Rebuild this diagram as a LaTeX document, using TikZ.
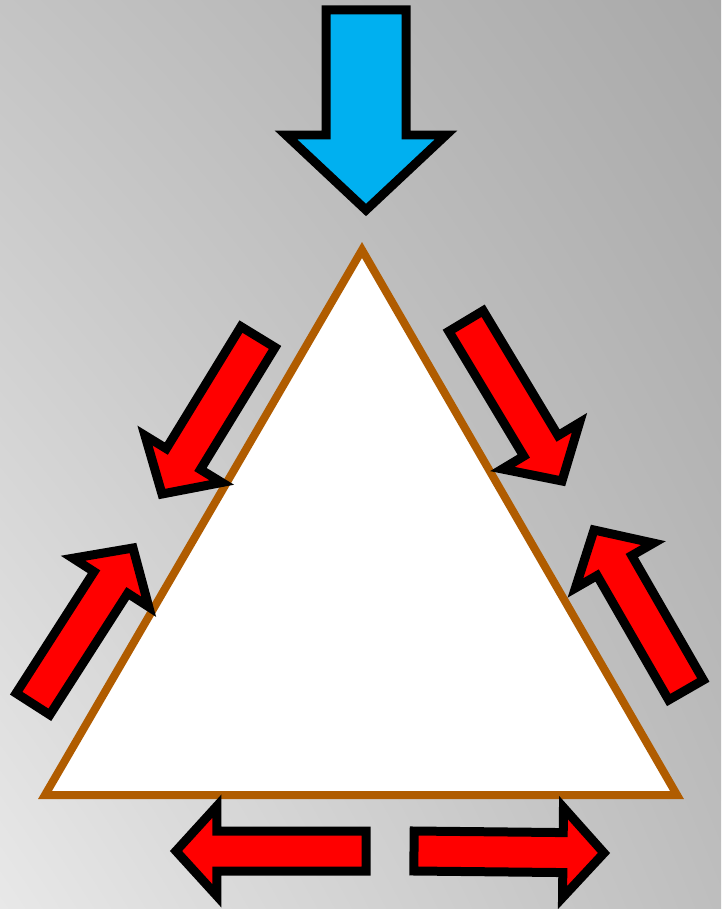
\documentclass[tikz,border=0pt]{standalone}
\usetikzlibrary{calc, shadings}
\definecolor{skyblue}{HTML}{00B0F0}
\definecolor{rimbrown}{HTML}{B05C00}
\definecolor{bgtopleft}{HTML}{C4C4C4}
\definecolor{bgtopright}{HTML}{A9A9A9}
\definecolor{bgbotleft}{HTML}{E8E8E8}
\definecolor{bgbotright}{HTML}{BEBEBE}

\tikzset{
  push/.style={draw=black, line width=0.18cm, fill=red, line join=miter},
  load/.style={draw=black, line width=0.18cm, fill=skyblue, line join=miter},
  rim/.style={draw=rimbrown, line width=0.16cm, fill=white},
}

% block arrow from tail #1 to tip #2
\newcommand{\pusharrow}[2]{%
  \coordinate (#1-b) at ($(#2)!0.82cm!(#1)$);
  \draw[push] ($(#1)!0.4cm!90:(#2)$) -- ($(#1-b)!0.4cm!-90:(#1)$)
    -- ($(#1-b)!0.9cm!-90:(#1)$) -- (#2)
    -- ($(#1-b)!0.9cm!90:(#1)$) -- ($(#1-b)!0.4cm!90:(#1)$)
    -- ($(#1)!0.4cm!-90:(#2)$) -- cycle;
}

\begin{document}
\begin{tikzpicture}[x=0.02cm, y=-0.02cm]

    % --- Background ---
    \useasboundingbox (0,0) rectangle (721,909);
    \shade[upper left=bgtopleft, upper right=bgtopright,
           lower left=bgbotleft, lower right=bgbotright] (0,0) rectangle (721,909);

    % --- Triangle ---
    \coordinate (apex) at (362,250);
    \coordinate (left) at (45,795);
    \coordinate (right) at (677,795);
    \draw[rim] (apex) -- (left) -- (right) -- cycle;

    % --- Load arrow ---
    \draw[load] (326,10) -- (406,10) -- (406,135) -- (446,135)
        -- (366,210) -- (286,135) -- (326,135) -- cycle;

    % --- Push arrows ---
    \coordinate (ul) at (258,337);  \coordinate (ul-tip) at (162,494);
    \coordinate (ll) at (33,704);   \coordinate (ll-tip) at (133,548);
    \coordinate (ur) at (466,321);  \coordinate (ur-tip) at (562,481);
    \coordinate (lr) at (686,690);  \coordinate (lr-tip) at (594,530);
    \coordinate (bl) at (366,851);  \coordinate (bl-tip) at (176,851);
    \coordinate (br) at (414,851);  \coordinate (br-tip) at (604,853);

    \pusharrow{ul}{ul-tip}
    \pusharrow{ll}{ll-tip}
    \pusharrow{ur}{ur-tip}
    \pusharrow{lr}{lr-tip}
    \pusharrow{bl}{bl-tip}
    \pusharrow{br}{br-tip}

\end{tikzpicture}
\end{document}
